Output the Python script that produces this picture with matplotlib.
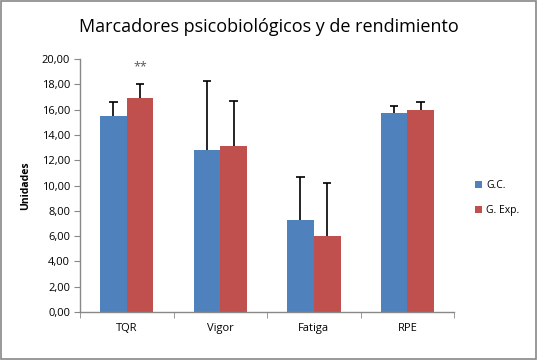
import matplotlib

matplotlib.use("Agg")
import matplotlib.pyplot as plt
from matplotlib.patches import Rectangle
from matplotlib.ticker import FuncFormatter
import numpy as np

CATEGORIES = ["TQR", "Vigor", "Fatiga", "RPE"]
GC_MEANS = [15.5, 12.8, 7.3, 15.7]
GC_SD = [1.1, 5.5, 3.4, 0.6]
EXP_MEANS = [16.9, 13.1, 6.0, 16.0]
EXP_SD = [1.1, 3.6, 4.2, 0.6]
SERIES_NAMES = ["G.C.", "G. Exp."]
TITLE = "Marcadores psicobiológicos y de rendimiento"

BLUE = "#4f81bd"
RED = "#c0504d"

plt.rcParams["font.family"] = ["Open Sans", "DejaVu Sans"]

fig = plt.figure(figsize=(5.38, 3.6), dpi=100)
fig.patches.append(Rectangle((0.002, 0.003), 0.995, 0.994, transform=fig.transFigure,
                             fill=False, edgecolor="#888888", linewidth=1.2))
ax = fig.add_axes([0.1487, 0.1333, 0.6953, 0.7027])

x = np.arange(len(CATEGORIES))
w = 1 / 3.5
cap = 0.045


def upper_errors(xs, means, sds):
    means = np.asarray(means)
    tops = means + np.asarray(sds)
    ax.vlines(xs, means, tops, color="black", linewidth=1.2, zorder=3)
    ax.hlines(tops, xs - cap, xs + cap, color="black", linewidth=1.2, zorder=3)


ax.bar(x - w / 2, GC_MEANS, w, color=BLUE, label=SERIES_NAMES[0], zorder=2)
ax.bar(x + w / 2, EXP_MEANS, w, color=RED, label=SERIES_NAMES[1], zorder=2)
upper_errors(x - w / 2, GC_MEANS, GC_SD)
upper_errors(x + w / 2, EXP_MEANS, EXP_SD)

ax.text(x[0] + w / 2, 19.4, "**", ha="center", va="center", fontsize=9, color="#555555")

ax.set_xlim(-0.5, len(CATEGORIES) - 0.5)
ax.set_ylim(0, 20)
ax.set_yticks(np.arange(0, 20.1, 2))
ax.yaxis.set_major_formatter(FuncFormatter(lambda v, _: f"{v:.2f}".replace(".", ",")))
ax.set_xticks(x)
ax.set_xticklabels(CATEGORIES)
ax.set_xticks(np.arange(-0.5, len(CATEGORIES), 1), minor=True)
ax.tick_params(axis="x", which="major", length=0, labelsize=8, pad=8)
ax.tick_params(axis="x", which="minor", length=4, color="#888888", direction="out")
ax.tick_params(axis="y", length=4, color="#888888", labelsize=8, pad=3)
for s in ["top", "right"]:
    ax.spines[s].set_visible(False)
for s in ["left", "bottom"]:
    ax.spines[s].set_color("#888888")
    ax.spines[s].set_linewidth(1)

ax.set_ylabel("Unidades", fontsize=7.5, fontweight="bold", labelpad=8)
fig.text(0.5, 0.925, TITLE, ha="center", va="center", fontsize=13, color="black")

ax.legend(loc="center left", bbox_to_anchor=(1.03, 0.45), frameon=False,
          fontsize=7.5, handlelength=0.7, handleheight=0.7, handletextpad=0.4,
          labelspacing=1.3)

fig.savefig("out.png", dpi=100)
